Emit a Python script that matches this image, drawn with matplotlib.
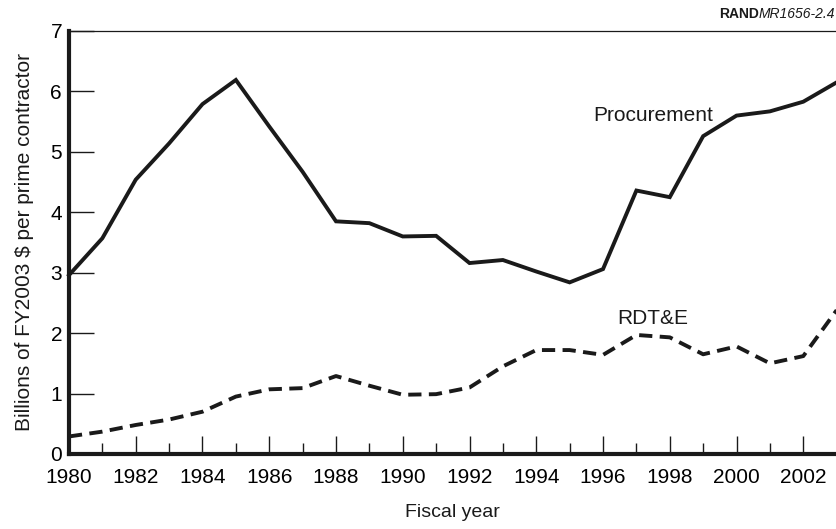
import matplotlib
matplotlib.use("Agg")
import matplotlib.pyplot as plt
from matplotlib.ticker import MultipleLocator

plt.rcParams['font.family'] = ['Liberation Sans', 'DejaVu Sans']

years = list(range(1980, 2004))
procurement = [2.96, 3.57, 4.54, 5.14, 5.79, 6.19, 5.42, 4.67, 3.85, 3.82, 3.60,
               3.61, 3.16, 3.21, 3.02, 2.84, 3.06, 4.36, 4.25, 5.26, 5.60, 5.67,
               5.83, 6.15]
rdte = [0.29, 0.37, 0.48, 0.57, 0.70, 0.95, 1.07, 1.09, 1.29, 1.13, 0.98,
        0.99, 1.10, 1.45, 1.72, 1.72, 1.64, 1.97, 1.93, 1.65, 1.78, 1.50,
        1.62, 2.38]
x_ticks = list(range(1980, 2003, 2))
y_ticks = list(range(0, 8))

fig = plt.figure(figsize=(8.37, 5.29), dpi=100)
ax = fig.add_axes([0.0824, 0.1418, 0.9172, 0.7996])

ax.plot(years, procurement, color='#1a1a1a', lw=2.8, solid_joinstyle='miter', clip_on=False)
ax.plot(years, rdte, color='#1a1a1a', lw=2.8, dashes=(3.4, 1.9), clip_on=False)

ax.set_xlim(1980, 2003)
ax.set_ylim(0, 7)
ax.set_xticks(x_ticks)
ax.xaxis.set_minor_locator(MultipleLocator(1))
ax.set_yticks(y_ticks)

ax.tick_params(axis='x', which='major', direction='in', length=13, width=1, labelsize=15, pad=10, color='#1a1a1a')
ax.tick_params(axis='x', which='minor', direction='in', length=8, width=1, color='#1a1a1a')
ax.tick_params(axis='y', which='major', direction='in', length=18, width=1, labelsize=15, pad=5, color='#1a1a1a')

for s in ['left', 'bottom']:
    ax.spines[s].set_linewidth(3.0)
    ax.spines[s].set_color('#1a1a1a')
for s in ['top', 'right']:
    ax.spines[s].set_linewidth(0.9)
    ax.spines[s].set_color('#1a1a1a')

ax.set_xlabel('Fiscal year', fontsize=14, labelpad=12, color='#1a1a1a')
ax.set_ylabel('Billions of FY2003 \\$ per prime contractor', fontsize=15, labelpad=12, color='#1a1a1a')

ax.text(1997.5, 5.6, 'Procurement', fontsize=15, ha='center', va='center', color='#1a1a1a')
ax.text(1997.5, 2.25, 'RDT&E', fontsize=15, ha='center', va='center', color='#1a1a1a')

mr = fig.text(0.998, 0.973, 'MR1656-2.4', fontsize=10, style='italic', ha='right', va='center', color='#1a1a1a')
fig.canvas.draw()
ax.annotate('RAND', xy=(0, 0.5), xycoords=mr, fontsize=10, fontweight='bold',
            ha='right', va='center', color='#1a1a1a', annotation_clip=False)

fig.savefig('out.png', dpi=100)
